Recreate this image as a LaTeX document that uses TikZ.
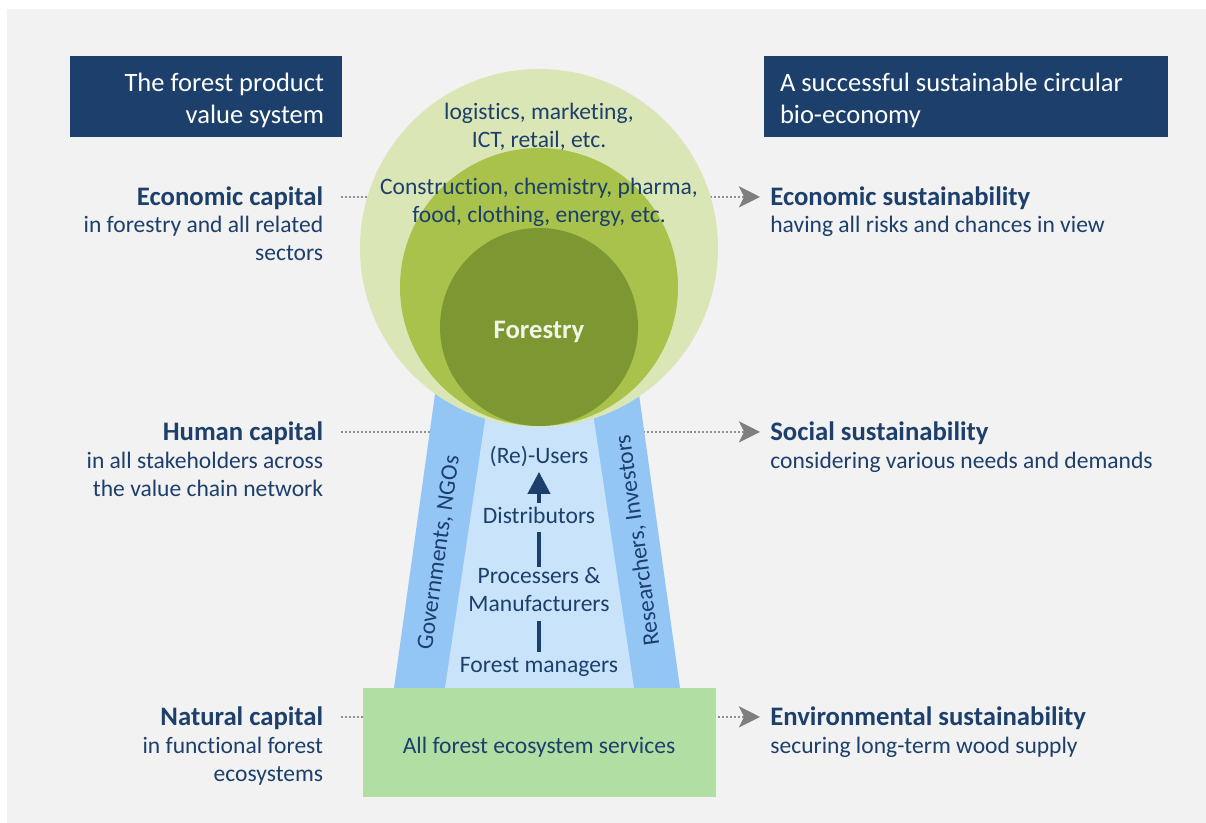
\documentclass[tikz,border=0pt]{standalone}
\usepackage{fontspec}
\setmainfont{Carlito}[Ligatures=NoCommon]
\usepackage{tikz}
\usetikzlibrary{positioning, arrows.meta}

\definecolor{panel}{HTML}{F2F2F2}
\definecolor{navy}{HTML}{1C3F6C}
\definecolor{dotgrey}{HTML}{8F8F8F}
\definecolor{tipgrey}{HTML}{7F7F7F}
\definecolor{ringout}{HTML}{DBE6B7}
\definecolor{ringmid}{HTML}{A8C24B}
\definecolor{ringin}{HTML}{7D9733}
\definecolor{bandout}{HTML}{93C6F4}
\definecolor{bandin}{HTML}{C9E3FA}
\definecolor{ecogreen}{HTML}{B1DEA2}
\definecolor{paletext}{HTML}{F2F5E3}

\begin{document}
\begin{tikzpicture}[
	txt/.style={text=navy, inner sep=0pt, font=\fontsize{13.4}{15.94}\selectfont, execute at begin node=\strut, execute at end node=\strut},
	head/.style={txt, font=\fontsize{15.2}{15.94}\selectfont\bfseries},
	titlebox/.style={fill=navy, minimum width=#1, minimum height=1.62cm, inner sep=0pt},
	titletext/.style={text=white, inner sep=0pt, font=\fontsize{15.1}{18.2}\selectfont},
	dotlink/.style={draw=dotgrey, line width=1.13pt, dash pattern=on 1.13pt off 1.13pt, shorten <=0.35cm, shorten >=0.2cm, transform canvas={yshift=0.06cm}, -{Stealth[length=12pt, width=12pt, inset=3pt, color=tipgrey]}},
	flow/.style={draw=navy, line width=2.3pt},
	ring/.style={circle, inner sep=0pt}]
	\useasboundingbox (0,0) rectangle (24.12,16.46);
	\fill[panel] (0.14,0) rectangle (24.12,16.28);

	% headings
	\node[titlebox=5.44cm] (leftTitle) at (4.12,14.53) {};
	\node[titletext, align=right, anchor=east] (leftTitleText) at ([xshift=-0.36cm, yshift=-0.08cm]leftTitle.east) {The forest product\\value system};
	\node[titlebox=8.08cm] (rightTitle) at (19.32,14.53) {};
	\node[titletext, align=left, anchor=west] (rightTitleText) at ([xshift=0.32cm, yshift=-0.08cm]rightTitle.west) {A successful sustainable circular\\bio-economy};

	% capitals (left) and sustainability (right)
	\node[head, anchor=base east] (ecoL) at (6.47,12.35) {Economic capital};
	\node[txt, align=right, below=0.03cm of ecoL.south east, anchor=north east] (ecoLs) {in forestry and all related\\sectors};
	\node[head, anchor=base east] (humL) at (6.47,7.65) {Human capital};
	\node[txt, align=right, below=0.06cm of humL.south east, anchor=north east] (humLs) {in all stakeholders across\\the value chain network};
	\node[head, anchor=base east] (natL) at (6.47,1.95) {Natural capital};
	\node[txt, align=right, below=0.05cm of natL.south east, anchor=north east] (natLs) {in functional forest\\ecosystems};

	\node[head, anchor=base west] (ecoR) at (15.40,12.35) {Economic sustainability};
	\node[txt, align=left, below=-0.03cm of ecoR.south west, anchor=north west] (ecoRs) {having all risks and chances in view};
	\node[head, anchor=base west] (humR) at (15.40,7.65) {Social sustainability};
	\node[txt, align=left, below=-0.02cm of humR.south west, anchor=north west] (humRs) {considering various needs and demands};
	\node[head, anchor=base west] (natR) at (15.40,1.95) {Environmental sustainability};
	\node[txt, align=left, below=-0.02cm of natR.south west, anchor=north west] (natRs) {securing long-term wood supply};

	\path
		(ecoL) edge[dotlink] (ecoR)
		(humL) edge[dotlink] (humR)
		(natL) edge[dotlink] (natR);

	% stakeholder band
	\fill[bandout] (7.88,2.70) -- (13.60,2.70) -- (12.74,8.86) -- (8.74,8.86) -- cycle;
	\fill[bandin] (8.90,2.70) -- (12.68,2.70) -- (11.76,8.86) -- (9.82,8.86) -- cycle;

	% sectors
	\node[ring, fill=ringout, minimum size=7.16cm] (related) at (10.78,11.50) {};
	\node[ring, fill=ringmid, minimum size=5.56cm] (users) at (10.78,10.72) {};
	\node[ring, fill=ringin, minimum size=3.96cm] (forestry) at (10.78,9.92) {};
	\node[text=paletext, inner sep=0pt, font=\fontsize{15.2}{18}\selectfont\bfseries] (forestryText) at (10.78,9.83) {Forestry};
	\node[txt, align=center] (service) at (10.78,13.86) {logistics, marketing,\\ICT, retail, etc.};
	\node[txt, align=center] (industry) at (10.78,12.36) {Construction, chemistry, pharma,\\food, clothing, energy, etc.};

	\node[fill=ecogreen, minimum width=7.06cm, minimum height=2.18cm] (eco) at (10.79,1.61) {};
	\node[txt] (ecoText) at (10.78,1.51) {All forest ecosystem services};

	% value chain
	\node[txt] (fm) at (10.78,3.13) {Forest managers};
	\node[txt, align=center] (proc) at (10.78,4.58) {Processers \&\\Manufacturers};
	\node[txt] (dist) at (10.78,6.11) {Distributors};
	\node[txt] (reuse) at (10.78,7.31) {(Re)-Users};
	\path
		(fm) edge[flow] (proc)
		(proc) edge[flow] (dist)
		(dist) edge[flow, -{Triangle[length=12.5pt, width=12.5pt]}] (reuse);

	\node[txt, rotate=82] (gov) at (8.80,5.40) {Governments, NGOs};
	\node[txt, rotate=98] (res) at (12.78,5.66) {Researchers, Investors};
\end{tikzpicture}
\end{document}
